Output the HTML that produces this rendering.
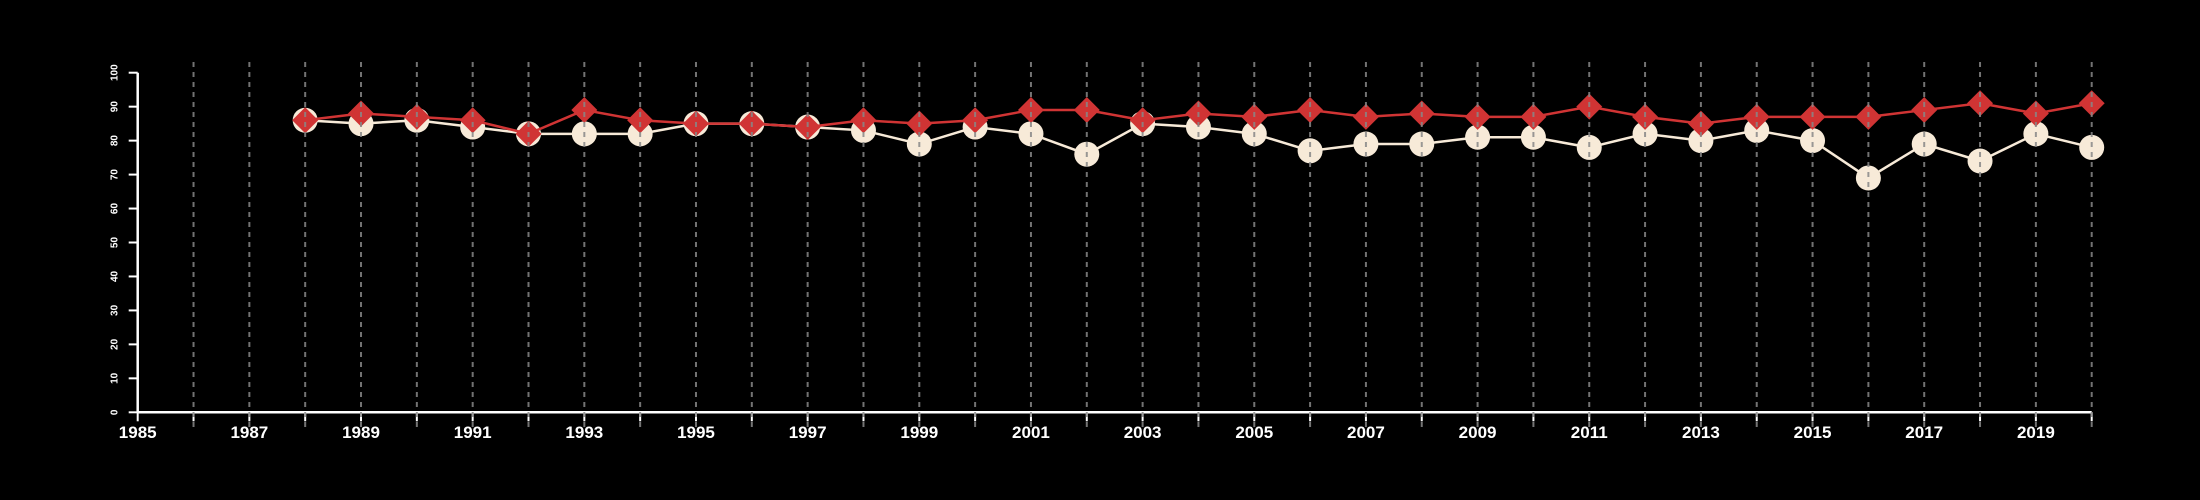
<!DOCTYPE html>
<html><head><meta charset="utf-8"><style>html,body{margin:0;background:#000;}svg{display:block}</style></head>
<body>
<svg id="chart" width="2200" height="500" xmlns="http://www.w3.org/2000/svg" font-family="Liberation Sans, sans-serif">
<rect width="2200" height="500" fill="#000"/>
</svg>
<script>
const years = [1988,1989,1990,1991,1992,1993,1994,1995,1996,1997,1998,1999,2000,2001,2002,2003,2004,2005,2006,2007,2008,2009,2010,2011,2012,2013,2014,2015,2016,2017,2018,2019,2020];
const redSeries = [86,88,87,86,82,89,86,85,85,84,86,85,86,89,89,86,88,87,89,87,88,87,87,90,87,85,87,87,87,89,91,88,91];
const whiteSeries = [86,85,86,84,82,82,82,85,85,84,83,79,84,82,76,85,84,82,77,79,79,81,81,78,82,80,83,80,69,79,74,82,78];
const yTicks = [0,10,20,30,40,50,60,70,80,90,100];
const xTickLabels = [1985,1987,1989,1991,1993,1995,1997,1999,2001,2003,2005,2007,2009,2011,2013,2015,2017,2019];
const gridYears = [1986,1987,1988,1989,1990,1991,1992,1993,1994,1995,1996,1997,1998,1999,2000,2001,2002,2003,2004,2005,2006,2007,2008,2009,2010,2011,2012,2013,2014,2015,2016,2017,2018,2019,2020];

const X0=137.7, X1=2091.7, Y0=412.3, Y1=72.7;
const xs = y => X0 + (y-1985)*(X1-X0)/35;
const ys = v => Y0 - v*(Y0-Y1)/100;
const svg = document.getElementById('chart');
const NS='http://www.w3.org/2000/svg';
function mk(tag, attrs, parent){const e=document.createElementNS(NS,tag);for(const k in attrs)e.setAttribute(k,attrs[k]);(parent||svg).appendChild(e);return e;}

// axes
const ax = mk('g',{});


const yl = mk('line',{x1:X0,y1:ys(0),x2:X0,y2:ys(100),stroke:'#fff','stroke-width':2.5},ax);


yTicks.forEach(t=>{
  const l=mk('line',{x1:X0-9,y1:ys(t),x2:X0,y2:ys(t),stroke:'#fff','stroke-width':2},ax);
  
  
  const tx=mk('text',{x:0,y:0,fill:'#fff','font-size':10,'font-weight':'bold','text-anchor':'middle',transform:`translate(${X0-20},${ys(t)}) rotate(-90)`},ax);
  
  
  tx.textContent=t;
});
const xl = mk('line',{x1:X0,y1:Y0,x2:X1,y2:Y0,stroke:'#fff','stroke-width':2.5},ax);


for(let y=1985;y<=2020;y++){
  const l=mk('line',{x1:xs(y),y1:Y0,x2:xs(y),y2:Y0+9,stroke:'#fff','stroke-width':2},ax);
  
  
}
xTickLabels.forEach(t=>{
  const tx=mk('text',{x:xs(t),y:438,fill:'#fff','font-size':17,'font-weight':'bold','text-anchor':'middle'},ax);
  
  
  tx.textContent=t;
});

// white series
const wl = mk('polyline',{points:years.map((y,i)=>xs(y)+','+ys(whiteSeries[i])).join(' '),fill:'none',stroke:'#f7ead8','stroke-width':2.5});


years.forEach((y,i)=>{
  const c=mk('circle',{cx:xs(y),cy:ys(whiteSeries[i]),r:12.5,fill:'#f7ead8'});
  
  
});
// red series
const rl = mk('polyline',{points:years.map((y,i)=>xs(y)+','+ys(redSeries[i])).join(' '),fill:'none',stroke:'#d03434','stroke-width':2.5});


years.forEach((y,i)=>{
  const cx=xs(y), cy=ys(redSeries[i]), d=13;
  const p=mk('polygon',{points:`${cx},${cy-d} ${cx+d},${cy} ${cx},${cy+d} ${cx-d},${cy}`,fill:'#d03434'});
  
  
});
// grid on top
gridYears.forEach(y=>{
  const l=mk('line',{x1:xs(y),y1:62,x2:xs(y),y2:428,stroke:'#888','stroke-width':2,'stroke-dasharray':'5,5','opacity':0.85});
  
  
});
</script>
</body></html>
